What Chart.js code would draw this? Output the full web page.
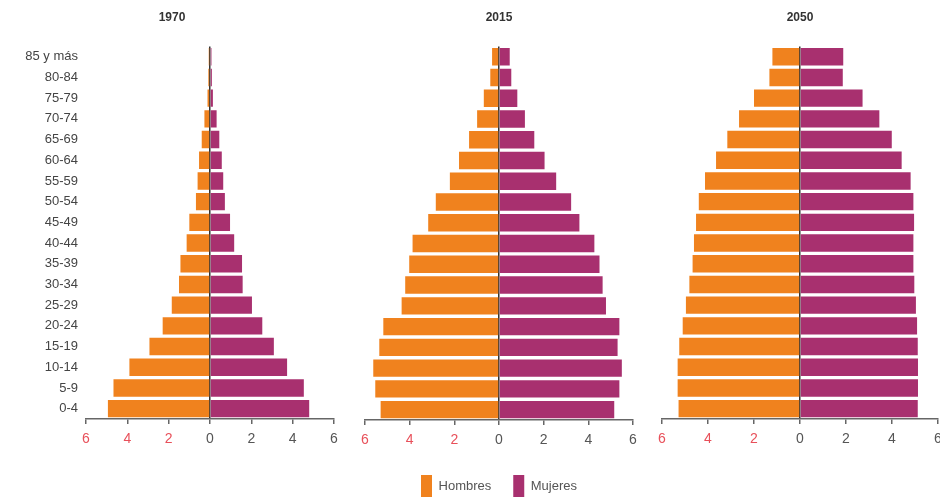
<!DOCTYPE html>
<html lang="es">
  <head>
    <meta charset="UTF-8" />
    <title>Pirámides de población 1970, 2015, 2050</title>
    <style>
      html, body { margin: 0; padding: 0; background: #fff; overflow: hidden; }
      body { width: 940px; height: 500px; position: relative; }
      .panel { position: absolute; top: 0; }
      #p1970 { left: 0; width: 346px; height: 449px; }
      #p2015 { left: 353px; width: 292px; height: 507px; }
      #p2050 { left: 650px; width: 300px; height: 449px; }
    </style>
  </head>
  <body>
    <div class="panel" id="p1970"><canvas id="c1970"></canvas></div>
    <div class="panel" id="p2015"><canvas id="c2015"></canvas></div>
    <div class="panel" id="p2050"><canvas id="c2050"></canvas></div>

    <script src="https://cdn.jsdelivr.net/npm/chart.js"></script>
    <script>
      // grupos de edad, de arriba hacia abajo
      const edades = ["85 y más", "80-84", "75-79", "70-74", "65-69", "60-64", "55-59", "50-54", "45-49",
        "40-44", "35-39", "30-34", "25-29", "20-24", "15-19", "10-14", "5-9", "0-4"];

      // porcentajes (%)
      const hombres1970 = [0.06, 0.08, 0.12, 0.27, 0.4, 0.53, 0.6, 0.68, 1.0, 1.13, 1.43, 1.5, 1.85, 2.29, 2.93, 3.9, 4.67, 4.94];
      const mujeres1970 = [0.07, 0.09, 0.14, 0.32, 0.45, 0.57, 0.64, 0.72, 0.97, 1.17, 1.55, 1.58, 2.03, 2.53, 3.09, 3.73, 4.54, 4.8];
      const hombres2015 = [0.31, 0.39, 0.68, 0.98, 1.34, 1.79, 2.2, 2.83, 3.17, 3.87, 4.02, 4.2, 4.36, 5.18, 5.36, 5.63, 5.54, 5.3];
      const mujeres2015 = [0.48, 0.55, 0.82, 1.16, 1.58, 2.04, 2.56, 3.23, 3.6, 4.27, 4.5, 4.64, 4.79, 5.39, 5.31, 5.5, 5.39, 5.16];
      const hombres2050 = [1.2, 1.33, 2.0, 2.65, 3.16, 3.65, 4.13, 4.4, 4.52, 4.61, 4.67, 4.81, 4.96, 5.1, 5.25, 5.32, 5.32, 5.28];
      const mujeres2050 = [1.88, 1.86, 2.72, 3.45, 3.99, 4.42, 4.81, 4.93, 4.96, 4.93, 4.93, 4.97, 5.04, 5.09, 5.12, 5.13, 5.13, 5.12];

      const xTicks = [-6, -4, -2, 0, 2, 4, 6];

      const NARANJA = "#f0821e";
      const MORADO = "#a8306f";
      const FUENTE = "'Liberation Sans Narrow', 'Liberation Sans', Arial, sans-serif";

      function piramide(id, anio, hombres, mujeres, conEtiquetas, conLeyenda) {
        const ctx = document.getElementById(id).getContext("2d");
        return new Chart(ctx, {
          type: "bar",
          data: {
            labels: edades,
            datasets: [
              {
                label: "Hombres",
                data: hombres.map((v) => -v),
                backgroundColor: NARANJA,
                borderWidth: 0,
                barPercentage: 0.84,
                categoryPercentage: 1,
              },
              {
                label: "Mujeres",
                data: mujeres,
                backgroundColor: MORADO,
                borderWidth: 0,
                barPercentage: 0.84,
                categoryPercentage: 1,
              },
            ],
          },
          options: {
            indexAxis: "y",
            responsive: true,
            maintainAspectRatio: false,
            animation: false,
            layout: {
              padding: { left: conEtiquetas ? 10 : 12, right: 12, top: 0, bottom: 0 },
            },
            plugins: {
              tooltip: { enabled: false },
              title: {
                display: true,
                text: anio,
                color: "#333",
                font: { family: FUENTE, size: 12, weight: "bold" },
                padding: { top: 10, bottom: 22 },
              },
              legend: {
                display: conLeyenda,
                position: "bottom",
                labels: {
                  boxWidth: 11,
                  boxHeight: 22,
                  padding: 22,
                  color: "#555",
                  font: { family: FUENTE, size: 13 },
                },
              },
            },
            scales: {
              x: {
                type: "linear",
                stacked: true,
                min: -6,
                max: 6,
                z: 1,
                afterBuildTicks: (scale) => {
                  scale.ticks = xTicks.map((v) => ({ value: v }));
                },
                afterFit: (scale) => {
                  scale.height = conLeyenda ? 33 : 30;
                },
                border: { display: true, color: "#666", width: 1.5 },
                grid: {
                  drawTicks: true,
                  tickLength: 5,
                  tickColor: "#666",
                  color: (c) => (c.tick && c.tick.value === 0 ? "#333" : "rgba(0,0,0,0)"),
                  lineWidth: 1.5,
                },
                ticks: {
                  padding: 7,
                  color: (c) => (c.tick && c.tick.value < 0 ? "#e8505a" : "#555"),
                  font: { family: FUENTE, size: 14 },
                  callback: (v) => Math.abs(v),
                },
              },
              y: {
                stacked: true,
                display: conEtiquetas,
                afterFit: (scale) => {
                  scale.width = conEtiquetas ? 76 : 0;
                },
                border: { display: false },
                grid: { display: false },
                ticks: {
                  padding: 0,
                  color: "#444",
                  font: { family: FUENTE, size: 13 },
                },
              },
            },
          },
        });
      }

      piramide("c1970", "1970", hombres1970, mujeres1970, true, false);
      piramide("c2015", "2015", hombres2015, mujeres2015, false, true);
      piramide("c2050", "2050", hombres2050, mujeres2050, false, false);
    </script>
  </body>
</html>
